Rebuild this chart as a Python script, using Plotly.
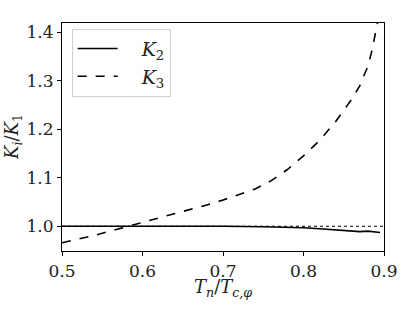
import plotly.graph_objects as go

# K3 / K1 (dashed)
t_k3 = [0.50, 0.52, 0.54, 0.56, 0.58, 0.60, 0.62, 0.64, 0.66, 0.68, 0.70,
        0.72, 0.74, 0.76, 0.78, 0.80, 0.82, 0.84, 0.86, 0.87, 0.88, 0.885, 0.89, 0.895]
k3 = [0.966, 0.973, 0.981, 0.990, 0.999, 1.008, 1.016, 1.025, 1.034, 1.044, 1.054,
      1.065, 1.077, 1.094, 1.117, 1.145, 1.177, 1.216, 1.262, 1.290, 1.330, 1.362, 1.400, 1.445]

# K2 / K1 (solid)
t_k2 = [0.50, 0.55, 0.60, 0.65, 0.70, 0.75, 0.78, 0.80, 0.82, 0.84, 0.86, 0.87, 0.88, 0.89, 0.895]
k2 = [1.000, 1.000, 1.001, 1.001, 1.000, 0.999, 0.998, 0.997, 0.995, 0.993, 0.990, 0.989, 0.990, 0.988, 0.987]

# reference line
t_ref = [0.5, 0.9]
ref = [1.0, 1.0]

x_ticks = [0.5, 0.6, 0.7, 0.8, 0.9]
y_ticks = [1.0, 1.1, 1.2, 1.3, 1.4]

x_title = "<i>T</i><sub><i>n</i></sub>/<i>T</i><sub><i>c,φ</i></sub>"
y_title = "<i>K</i><sub><i>i</i></sub>/<i>K</i><sub>1</sub>"

FONT = "DejaVu Serif, Liberation Serif, serif"
TXT = "#222"

fig = go.Figure()
fig.add_trace(go.Scatter(x=t_ref, y=ref, mode="lines", showlegend=False,
                         line=dict(color="black", width=1.2, dash="dot")))
fig.add_trace(go.Scatter(x=t_k2, y=k2, mode="lines", name="\u2003<i>K</i><sub>2</sub>",
                         line=dict(color="black", width=1.6)))
fig.add_trace(go.Scatter(x=t_k3, y=k3, mode="lines", name="\u2003<i>K</i><sub>3</sub>",
                         line=dict(color="black", width=1.6, dash="dash")))

axis_common = dict(showline=True, linecolor="black", linewidth=1.2, mirror=True,
                   ticks="outside", ticklen=4, tickcolor="black", showgrid=False,
                   zeroline=False, automargin=False,
                   tickfont=dict(family=FONT, size=17, color=TXT))

fig.update_xaxes(range=[0.5, 0.9], tickvals=x_ticks, tickformat=".1f", **axis_common)
fig.update_yaxes(range=[0.949, 1.419], tickvals=y_ticks, tickformat=".1f", **axis_common)

fig.add_annotation(text=x_title, xref="paper", yref="paper", x=0.5, y=0,
                   yshift=-23, xanchor="center", yanchor="top", showarrow=False,
                   font=dict(family=FONT, size=18, color=TXT))
fig.add_annotation(text=y_title, xref="paper", yref="paper", x=0, y=0.5,
                   xshift=-35, xanchor="right", yanchor="middle", textangle=-90,
                   showarrow=False, font=dict(family=FONT, size=18, color=TXT))

fig.update_layout(
    width=414, height=310,
    margin=dict(l=62, r=30, t=23, b=59),
    plot_bgcolor="white", paper_bgcolor="white",
    legend=dict(x=0.03, y=0.975, xanchor="left", yanchor="top",
                bordercolor="#d0d0d0", borderwidth=1, bgcolor="rgba(255,255,255,0.8)",
                font=dict(family=FONT, size=19, color=TXT),
                itemwidth=40, tracegroupgap=2),
)

fig.write_html("out.html", config={"displayModeBar": False},
               post_script="document.body.style.margin='0';")
